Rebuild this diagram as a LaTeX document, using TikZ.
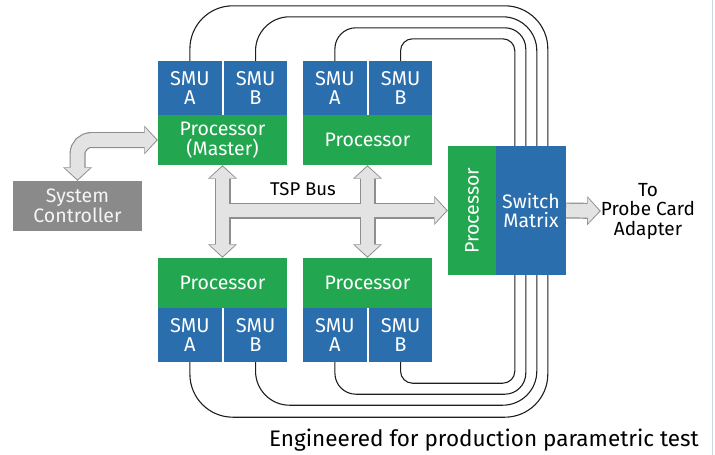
\documentclass[tikz,border=0pt]{standalone}
\usepackage{fontspec}
\setmainfont{Fira Sans}
\usetikzlibrary{positioning,arrows.meta}

\definecolor{smublue}{HTML}{2A6EAE}
\definecolor{procgreen}{HTML}{22A64F}
\definecolor{sysgray}{HTML}{8A8A8A}
\definecolor{busline}{HTML}{8E8E8E}
\definecolor{busfill}{HTML}{E3E3E3}
\definecolor{wirecol}{HTML}{1E1E1E}
\definecolor{edgeblue}{HTML}{C9D6E4}

\tikzset{
  smu/.style={fill=smublue, text=white, minimum width=63.75pt, minimum height=54pt,
    inner sep=0pt, align=center, font=\fontsize{20}{18.5}\selectfont},
  proc/.style={fill=procgreen, text=white, minimum width=129pt, minimum height=50pt,
    inner sep=0pt, align=center, font=\fontsize{19.5}{20}\selectfont},
  wire/.style={draw=wirecol, line width=1.1pt},
  busout/.style={draw=busline, line width=16pt,
    >={Triangle[width=29pt,length=13.5pt,line width=0pt]}},
  busin/.style={draw=busfill, line width=13.6pt, shorten >=1.4pt,
    >={Triangle[width=25pt,length=11.4pt,line width=0pt]}},
}

\begin{document}
\begin{tikzpicture}[x=1pt,y=-1pt]
\useasboundingbox (0,0) rectangle (715,455);
\draw[edgeblue, line width=1pt] (712,0) -- (712,455);

% modules
\node[proc] (proc1) at (222.5,140) {Processor\\(Master)};
\node[smu] (smuA1) at (189.9,88) {SMU\\A};
\node[smu, right=1.5pt of smuA1] (smuB1) {SMU\\B};
\node[proc] (proc2) at (367.5,140) {Processor};
\node[smu] (smuA2) at (334.9,88) {SMU\\A};
\node[smu, right=1.5pt of smuA2] (smuB2) {SMU\\B};
\node[proc] (proc3) at (222.5,283) {Processor};
\node[smu] (smuA3) at (189.9,335) {SMU\\A};
\node[smu, right=1.5pt of smuA3] (smuB3) {SMU\\B};
\node[proc] (proc4) at (367.5,283) {Processor};
\node[smu] (smuA4) at (334.9,335) {SMU\\A};
\node[smu, right=1.5pt of smuA4] (smuB4) {SMU\\B};

\node[proc, minimum width=48pt, minimum height=129pt,
  label={[rotate=90, text=white, font=\fontsize{19.5}{20}\selectfont]center:Processor}] (swproc) at (472,210.5) {};
\node[smu, minimum width=70pt, minimum height=129pt, font=\fontsize{19.5}{19}\selectfont] (sw) at (531,210.5) {Switch\\Matrix};

\node[fill=sysgray, text=white!92!gray, minimum width=129pt, minimum height=50pt, inner sep=0pt,
  align=center, font=\fontsize{19.5}{20}\selectfont] (sys) at (77.5,206) {System\\Controller};
\node[align=center, inner sep=0pt, font=\fontsize{19}{19.5}\selectfont] (probe) at (648,211) {To\\Probe Card\\Adapter};
\node[font=\fontsize{18.5}{18}\selectfont] (tsp) at (303,189) {TSP Bus};
\node[anchor=east, inner sep=0pt, font=\fontsize{22.5}{22}\selectfont] (title) at (699,440) {Engineered for production parametric test};

% wires to the switch matrix
\draw[wire, rounded corners=43pt] (smuA1.north) -- ++(0,-55) -| ([xshift=52pt]sw.north west);
\draw[wire, rounded corners=34pt] (smuB1.north) -- ++(0,-44) -| ([xshift=41pt]sw.north west);
\draw[wire, rounded corners=21pt] (smuA2.north) -- ++(0,-33) -| ([xshift=30pt]sw.north west);
\draw[wire, rounded corners=12pt] (smuB2.north) -- ++(0,-22) -| ([xshift=19pt]sw.north west);
\draw[wire, rounded corners=43pt] (smuA3.south) -- ++(0,55) -| ([xshift=52pt]sw.south west);
\draw[wire, rounded corners=34pt] (smuB3.south) -- ++(0,43) -| ([xshift=41pt]sw.south west);
\draw[wire, rounded corners=21pt] (smuA4.south) -- ++(0,32) -| ([xshift=30pt]sw.south west);
\draw[wire, rounded corners=12pt] (smuB4.south) -- ++(0,21) -| ([xshift=19pt]sw.south west);

% TSP bus and the other wide arrows
\draw[busout,<->] (proc1.south) -- (proc3.north);
\draw[busout,<->] (proc2.south) -- (proc4.north);
\draw[busout,->] (proc1.south |- swproc.west) -- (swproc.west);
\draw[busout,<->, rounded corners=14pt] (sys.north) |- (proc1.west);
\draw[busout,->] (sw.east) -- (probe.west);
\draw[busin,<->, shorten <=1.4pt] (proc1.south) -- (proc3.north);
\draw[busin,<->, shorten <=1.4pt] (proc2.south) -- (proc4.north);
\draw[busin,->] (proc1.south |- swproc.west) -- (swproc.west);
\draw[busin,<->, shorten <=1.4pt, rounded corners=14pt] (sys.north) |- (proc1.west);
\draw[busin,->] (sw.east) -- (probe.west);
\end{tikzpicture}
\end{document}
